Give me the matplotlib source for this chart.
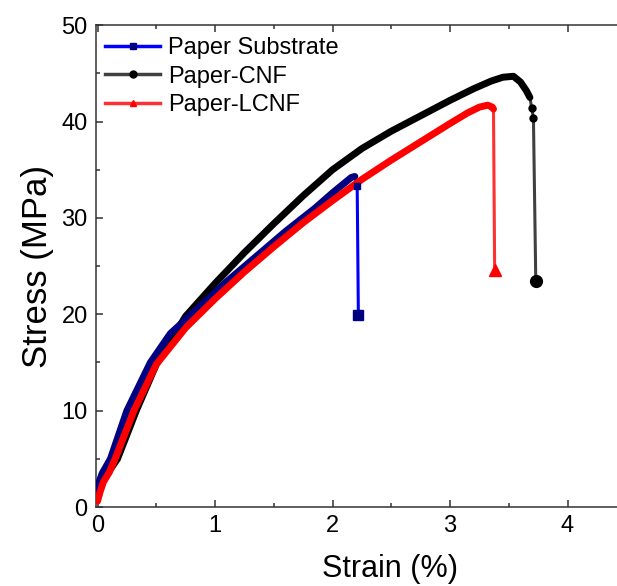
import matplotlib
matplotlib.use("Agg")
import matplotlib.pyplot as plt
from matplotlib.lines import Line2D
from matplotlib.ticker import MultipleLocator

plt.rcParams["font.family"] = ["Liberation Sans", "DejaVu Sans"]

# strain (%) / stress (MPa)
substrate_strain = [0.0, 0.01, 0.04, 0.11, 0.25, 0.45, 0.62, 0.87, 1.1, 1.35,
                    1.6, 1.85, 2.0, 2.1, 2.16, 2.19, 2.21, 2.22]
substrate_stress = [1.2, 2.5, 3.5, 5.0, 10.0, 15.0, 18.0, 20.8, 23.4, 26.0,
                    28.6, 31.0, 32.6, 33.6, 34.2, 34.3, 33.3, 19.9]

cnf_strain = [0.0, 0.02, 0.08, 0.17, 0.33, 0.5, 0.75, 1.0, 1.25, 1.5, 1.75,
              2.0, 2.25, 2.5, 2.75, 3.0, 3.2, 3.35, 3.45, 3.54, 3.6, 3.65,
              3.68, 3.695, 3.71, 3.73]
cnf_stress = [1.5, 2.6, 3.4, 5.0, 10.0, 14.8, 19.8, 23.2, 26.4, 29.4, 32.3,
              35.0, 37.2, 39.0, 40.6, 42.2, 43.4, 44.2, 44.6, 44.7, 44.1, 43.2,
              42.5, 41.4, 40.4, 23.5]

lcnf_strain = [0.0, 0.02, 0.05, 0.1, 0.15, 0.31, 0.5, 0.75, 1.0, 1.25, 1.5,
               1.75, 2.0, 2.25, 2.5, 2.75, 3.0, 3.15, 3.25, 3.32, 3.36, 3.37,
               3.38]
lcnf_stress = [0.6, 1.5, 2.6, 3.6, 5.0, 10.0, 14.8, 18.6, 21.6, 24.4, 27.0,
               29.5, 31.8, 34.0, 36.0, 37.9, 39.8, 40.9, 41.5, 41.7, 41.5, 41.3,
               24.6]

x_ticks = [0, 1, 2, 3, 4]
y_ticks = [0, 10, 20, 30, 40, 50]

series = [
    # label, x, y, line colour, marker colour, marker, points in the dense band
    ("Paper Substrate", substrate_strain, substrate_stress, "#0000ff", "#000080", "s", 16),
    ("Paper-CNF", cnf_strain, cnf_stress, "#404040", "#000000", "o", 23),
    ("Paper-LCNF", lcnf_strain, lcnf_stress, "#ff3030", "#ff0000", "^", 22),
]
end_size = {"s": 7, "o": 8.5, "^": 9}
zorders = {"Paper Substrate": 3, "Paper-CNF": 2, "Paper-LCNF": 4}

fig = plt.figure(figsize=(6.17, 5.86), dpi=100)
# the original frame runs past the right edge of the picture (x up to 5)
ax = fig.add_axes([0.1556, 0.1348, 0.9546, 0.8222])

handles = []
for label, x, y, lc, mc, mk, n_band in series:
    z = zorders[label]
    ax.plot(x, y, color=lc, linewidth=2.2, zorder=z)
    # densely sampled points in the original show up as a thick band
    ax.plot(x[:n_band], y[:n_band], color=mc, linewidth=5,
            solid_capstyle="round", zorder=z + 0.1)
    ax.plot(x[n_band:-1], y[n_band:-1], linestyle="none", marker=mk,
            color=mc, markersize=5, zorder=z + 5)
    ax.plot(x[-1:], y[-1:], linestyle="none", marker=mk, color=mc,
            markersize=end_size[mk], zorder=z + 5)
    handles.append(Line2D([], [], color=lc, linewidth=2.5, marker=mk,
                          markerfacecolor=mc, markeredgecolor=mc,
                          markersize=5, label=label))

ax.set_xlim(-0.013, 5.0)
ax.set_ylim(0, 50)
ax.set_xticks(x_ticks)
ax.set_yticks(y_ticks)
ax.xaxis.set_minor_locator(MultipleLocator(0.5))
ax.yaxis.set_minor_locator(MultipleLocator(5))
ax.tick_params(which="both", direction="in", top=True, right=True,
               labelsize=17, colors="#333333", labelcolor="black")
ax.tick_params(which="major", length=5, width=1.1, pad=6)
ax.tick_params(which="minor", length=3, width=1.1)
for s in ax.spines.values():
    s.set_linewidth(1.1)
    s.set_color("#333333")

ax.set_xlabel("Strain (%)", fontsize=22, labelpad=12)
ax.set_ylabel("Stress (MPa)", fontsize=25, labelpad=5)

ax.legend(handles=handles, loc="upper left", bbox_to_anchor=(0.016, 0.975),
          frameon=False, fontsize=17, handlelength=2.3, handletextpad=0.35,
          labelspacing=0.27, borderaxespad=0, borderpad=0)

fig.savefig("out.png", dpi=100)
